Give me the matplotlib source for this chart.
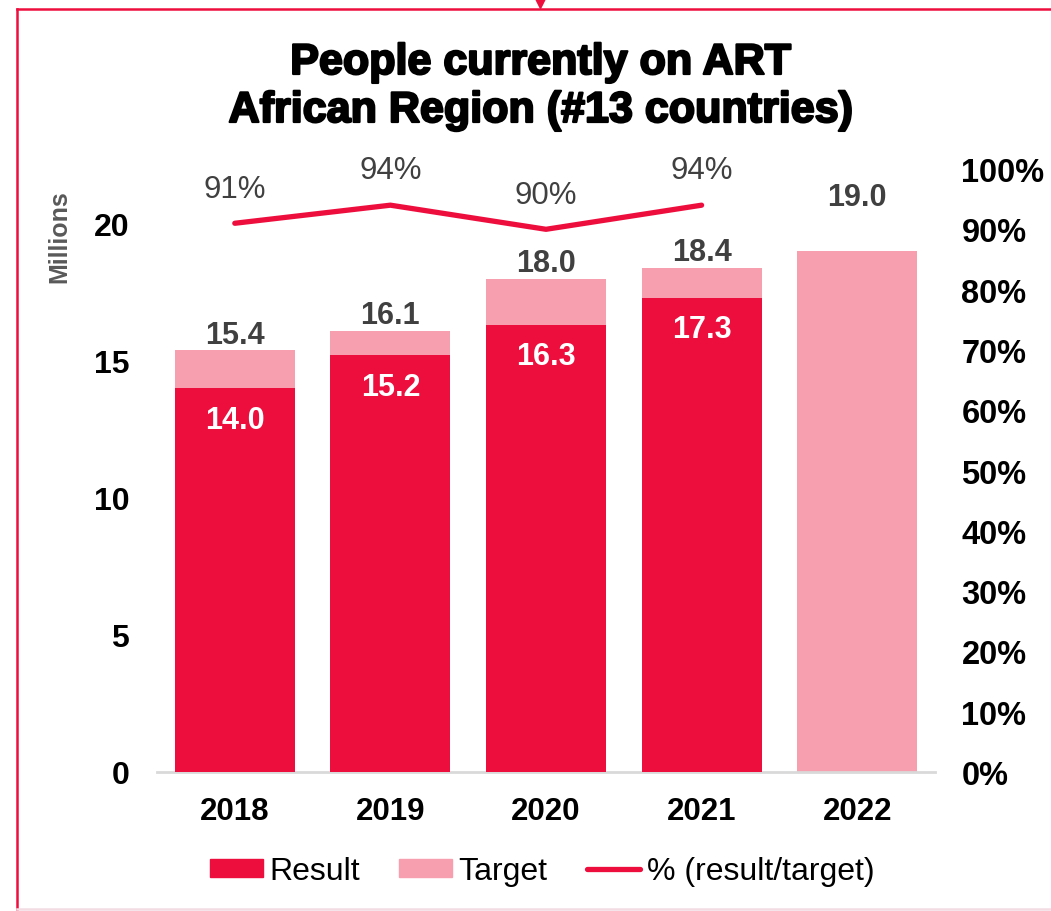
import matplotlib
matplotlib.use("Agg")
import matplotlib.pyplot as plt
import matplotlib.patheffects as pe
from matplotlib.lines import Line2D
from matplotlib.patches import Patch
from matplotlib import font_manager

years = ["2018", "2019", "2020", "2021", "2022"]
result = [14.0, 15.2, 16.3, 17.3]
target = [15.4, 16.1, 18.0, 18.4, 19.0]
pct = [0.91, 0.94, 0.90, 0.94]

RED = "#EE0E3E"
PINK = "#F79EAF"
GRAY = "#404040"

names = {f.name for f in font_manager.fontManager.ttflist}
BASE = "Liberation Sans" if "Liberation Sans" in names else "DejaVu Sans"
plt.rcParams["font.family"] = [BASE, "DejaVu Sans"]

W, H = 1051, 912
fig = plt.figure(figsize=(W / 100, H / 100), dpi=100)
ax = fig.add_axes([157 / W, (H - 773) / H, (935 - 157) / W, (773 - 170) / H])
ax2 = ax.twinx()

x = list(range(len(years)))
bw = 0.77
ax.bar(x, target, width=bw, color=PINK, zorder=2)
ax.bar(x[:len(result)], result, width=bw, color=RED, zorder=3)

ax.set_xlim(-0.5, len(years) - 0.5)
ax.set_ylim(0, 22)
ax.set_yticks([0, 5, 10, 15, 20])
ax.set_yticklabels(["0", "5", "10", "15", "20"], fontsize=23, fontweight="bold")
ax.set_xticks(x)
ax.set_xticklabels(years, fontsize=22.5, fontweight="bold")
ax.tick_params(axis="y", length=0, pad=20)
ax.tick_params(axis="x", length=0, pad=17)
for s in ["top", "left", "right"]:
    ax.spines[s].set_visible(False)
ax.spines["bottom"].set_color("#D9D9D9")
ax.spines["bottom"].set_linewidth(2)
ax.set_ylabel("Millions", fontsize=18, fontweight="bold", color="#595959")
ax.yaxis.set_label_coords(-0.11, 0.889)

# data labels
for i, v in enumerate(target):
    off = 11 if i < len(result) else 39
    ax.annotate(f"{v:.1f}", (i, v), xytext=(0, off), textcoords="offset points",
                ha="center", va="center", fontsize=22, fontweight="bold",
                color=GRAY, zorder=5)
for i, v in enumerate(result):
    ax.annotate(f"{v:.1f}", (i, v), xytext=(0, -22.5), textcoords="offset points",
                ha="center", va="center", fontsize=22, fontweight="bold",
                color="white", zorder=5)

# percentage line on right axis
ax2.plot(x[:len(pct)], pct, color=RED, lw=3.8, solid_capstyle="round", zorder=4)
ax2.set_ylim(0, 1.0)
ax2.set_yticks([i / 10 for i in range(11)])
ax2.set_yticklabels([f"{i*10}%" for i in range(11)], fontsize=23.5, fontweight="bold")
ax2.tick_params(axis="y", length=0, pad=19)
for s in ["top", "left", "right", "bottom"]:
    ax2.spines[s].set_visible(False)
for i, p in enumerate(pct):
    ax2.annotate(f"{round(p*100)}%", (i, p), xytext=(0, 25), textcoords="offset points",
                 ha="center", va="center", fontsize=22.5, color=GRAY)

# title
stroke = [pe.withStroke(linewidth=1.6, foreground="black")]
fig.text(540 / W, 1 - 64 / H, "People currently on ART", ha="center", va="center",
         fontsize=31, fontweight="bold", path_effects=stroke)
fig.text(540 / W, 1 - 112 / H, "African Region (#13 countries)", ha="center", va="center",
         fontsize=31, fontweight="bold", path_effects=stroke)

# legend
handles = [Patch(color=RED, label="Result"), Patch(color=PINK, label="Target"),
           Line2D([0], [0], color=RED, lw=3.8, solid_capstyle="round", label="% (result/target)")]
fig.legend(handles=handles, loc="center", bbox_to_anchor=(542 / W, 1 - 872 / H), ncol=3,
           frameon=False, prop={"size": 23}, handlelength=1.65,
           handleheight=0.5, handletextpad=0.2, columnspacing=1.25)

# frame around the chart
fig.add_artist(Line2D([17 / W, 17 / W], [1 - 10 / H, 1 - 910 / H], color=RED, lw=1.8,
                      transform=fig.transFigure))
fig.add_artist(Line2D([17 / W, 1.0], [1 - 10 / H, 1 - 10 / H], color=RED, lw=1.8,
                      transform=fig.transFigure))
fig.add_artist(Line2D([17 / W, 1.0], [1 - 910 / H, 1 - 910 / H], color="#F3DCE2", lw=1.8,
                      transform=fig.transFigure))
fig.add_artist(Line2D([540 / W], [1 - 4 / H], marker="v", markersize=7, color=RED,
                      transform=fig.transFigure))

fig.savefig("out.png", dpi=100)
